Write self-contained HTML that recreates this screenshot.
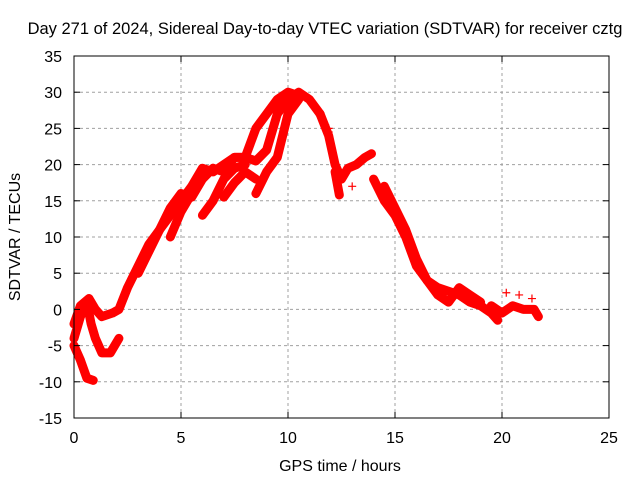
<!DOCTYPE html>
<html><head><meta charset="utf-8"><style>
body{margin:0;background:#fff}
svg{display:block;font-family:"Liberation Sans",sans-serif}
</style></head><body>
<svg id="chart" width="640" height="480">
<rect width="640" height="480" fill="#fff"/>
<g id="grid"></g><g id="series"></g><g id="axes"></g>
</svg>
<script>
const xTicks=[0,5,10,15,20,25];
const yTicks=[-15,-10,-5,0,5,10,15,20,25,30,35];
const track1=[[0,-2],[0.3,0.5],[0.7,1.5],[1.0,0],[1.3,-1],[1.8,-0.5],[2.1,0],[2.5,3],[3.0,6],[3.5,9],[4.0,11],[4.5,13],[5.0,15],[5.5,17],[6.0,19.5],[6.5,19],[7.0,20],[7.5,21],[8.0,21],[8.5,20.5],[9.0,22],[9.5,27],[10.0,29],[10.5,30],[11.0,29],[11.5,27]];
const track2=[[0,-4],[0.3,-1],[0.6,1],[0.8,-2],[1.0,-4],[1.3,-6],[1.7,-6],[2.1,-4]];
const track3=[[0,-5],[0.3,-7],[0.6,-9.5],[0.9,-9.8]];
const track4=[[3.0,5],[3.5,8],[4.0,11],[4.5,14],[5,16],[5.5,15.5],[6.0,18],[6.5,19.5],[7,19],[7.5,21],[8,21],[8.5,25],[9,27],[9.5,29],[10,30],[10.5,29.5]];
const track5=[[4.5,10],[5,13.5],[5.5,16]];
const track6=[[6,13],[6.5,15],[7,18],[7.5,19.5],[8,20]];
const track7=[[7,15.5],[7.5,17.5],[8,19],[8.5,18]];
const track8=[[8.5,16],[9,19],[9.5,21],[10,27],[10.5,29]];
const track9=[[11.5,27],[11.9,24],[12.2,20],[12.5,18],[12.8,19.5],[13.2,20],[13.6,21],[13.9,21.5]];
const track10=[[14.0,18],[14.5,15],[15,13],[15.5,10],[16,6],[16.5,4],[17,3],[17.5,2.5],[18,2],[18.5,1],[19,0.5],[19.5,-0.5],[19.8,-1.5]];
const track11=[[14.5,17],[15,14],[15.5,11],[16,7],[16.5,4],[17,2],[17.5,1],[18,3],[18.5,2],[19,1]];
const track12=[[19.5,0.5],[20,-0.5],[20.5,0.5],[21,0],[21.5,0],[21.7,-1]];
const track13=[[12.2,19],[12.4,15.8]];
const scatter=[[20.2,2.3],[20.8,2],[21.4,1.5],[13.0,17],[11.9,25],[11.9,24.5]];
const tracks=[track1,track2,track3,track4,track5,track6,track7,track8,track9,track10,track11,track12,track13];

const X0=74,X1=609,Y0=418,Y1=56;
const sx=v=>X0+(v-0)/(25-0)*(X1-X0);
const sy=v=>Y0-(v+15)/(35+15)*(Y0-Y1);
const NS="http://www.w3.org/2000/svg";
function mk(t,a,p){const e=document.createElementNS(NS,t);for(const k in a)e.setAttribute(k,a[k]);p.appendChild(e);return e;}
const grid=document.getElementById('grid'),axes=document.getElementById('axes'),ser=document.getElementById('series');
xTicks.forEach(t=>{
 if(t>0&&t<25){const g=mk('line',{x1:sx(t),x2:sx(t),y1:Y0,y2:Y1,stroke:'#a0a0a0','stroke-dasharray':'3,3'},grid);
 
 }
 mk('line',{x1:sx(t),x2:sx(t),y1:Y0,y2:Y0-6,stroke:'#000'},axes);
 mk('line',{x1:sx(t),x2:sx(t),y1:Y1,y2:Y1+6,stroke:'#000'},axes);
 const l=mk('text',{x:sx(t),y:443,'text-anchor':'middle','font-size':'16'},axes);l.textContent=t;
 
 
});
yTicks.forEach(t=>{
 if(t>-15&&t<35){const g=mk('line',{x1:X0,x2:X1,y1:sy(t),y2:sy(t),stroke:'#a0a0a0','stroke-dasharray':'3,3'},grid);
 
 }
 mk('line',{x1:X0,x2:X0+6,y1:sy(t),y2:sy(t),stroke:'#000'},axes);
 mk('line',{x1:X1,x2:X1-6,y1:sy(t),y2:sy(t),stroke:'#000'},axes);
 const l=mk('text',{x:62,y:sy(t)+6,'text-anchor':'end','font-size':'16'},axes);l.textContent=t;
 
 
});
const fr=mk('rect',{x:X0,y:Y1,width:X1-X0,height:Y0-Y1,fill:'none',stroke:'#000'},axes);


tracks.forEach(tr=>{
 const pl=mk('polyline',{points:tr.map(p=>sx(p[0])+','+sy(p[1])).join(' '),fill:'none',stroke:'#f00','stroke-width':9,'stroke-linejoin':'round','stroke-linecap':'round'},ser);
 
 
});
scatter.concat(...tracks).forEach(p=>{
 const x=sx(p[0]),y=sy(p[1]);
 const m=mk('path',{d:`M${x-4},${y}H${x+4}M${x},${y-4}V${y+4}`,stroke:'#f00','stroke-width':1.2},ser);
 
 
});
const tt=mk('text',{x:325,y:34,'text-anchor':'middle','font-size':'16.5'},axes);tt.textContent='Day 271 of 2024, Sidereal Day-to-day VTEC variation (SDTVAR) for receiver cztg';


const xt=mk('text',{x:340,y:471,'text-anchor':'middle','font-size':'16'},axes);xt.textContent='GPS time / hours';


const yt=mk('text',{x:0,y:0,'text-anchor':'middle','font-size':'16','transform':'translate(20,237) rotate(-90)'},axes);yt.textContent='SDTVAR / TECUs';


</script>
</body></html>
